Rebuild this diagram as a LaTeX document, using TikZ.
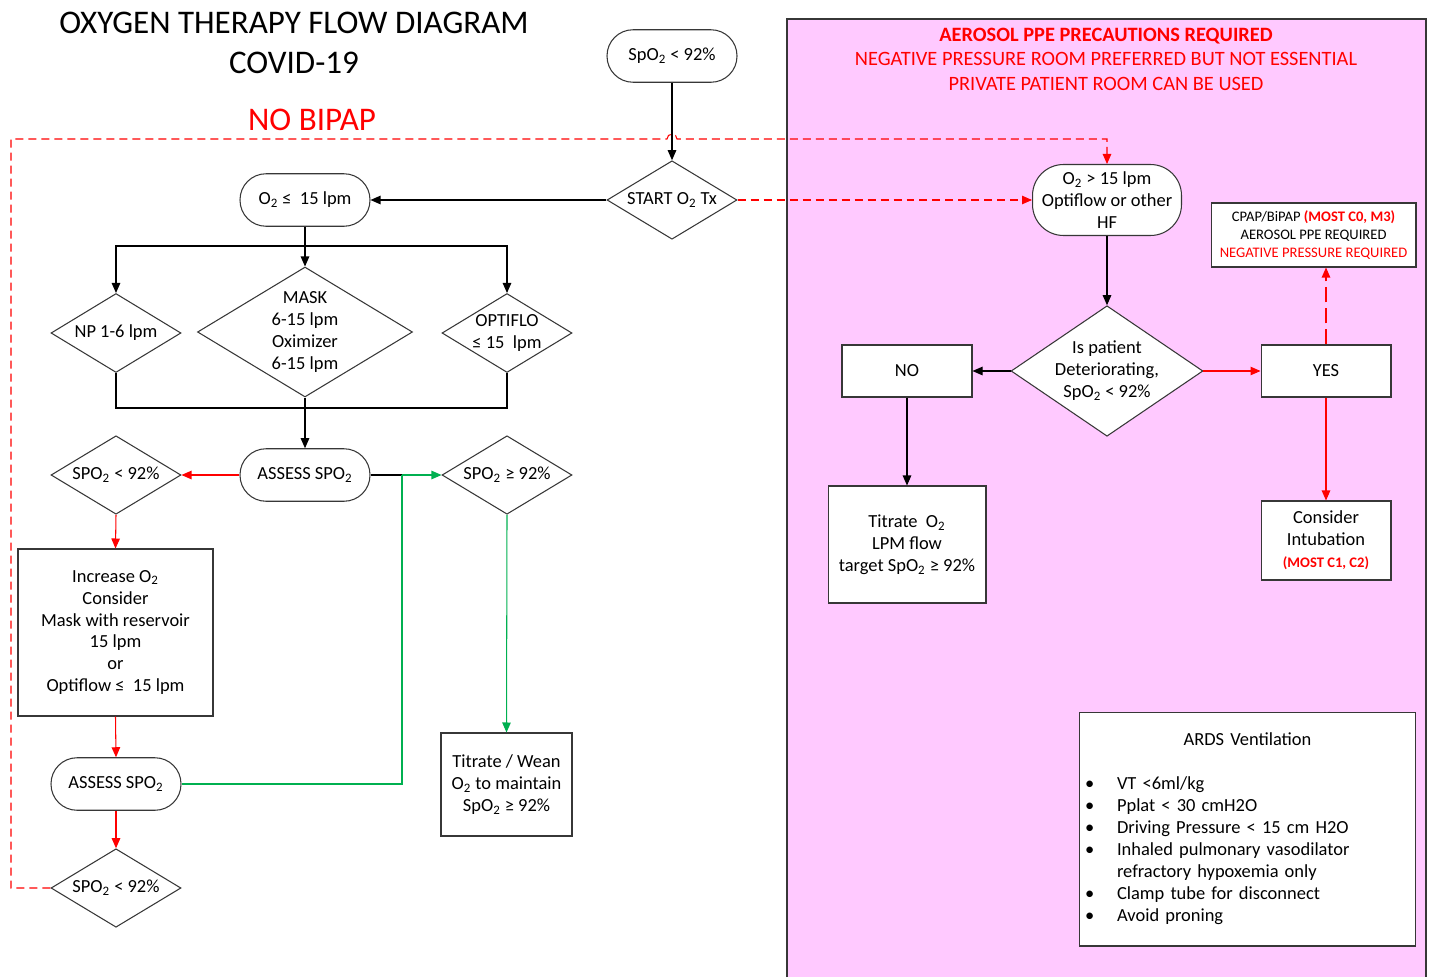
\documentclass[tikz,border=0pt]{standalone}
\usepackage{fontspec}
\setmainfont{Carlito}
\usetikzlibrary{shapes.geometric,arrows.meta}
\definecolor{ppepink}{RGB}{255,201,255}
\definecolor{okgreen}{RGB}{0,176,80}
\definecolor{boxline}{RGB}{55,55,55}
\newcommand{\Otwo}{O\textsubscript{2}}
\newcommand{\SpOtwo}{SpO\textsubscript{2}}
\newcommand{\SPOtwo}{SPO\textsubscript{2}}

\begin{document}
\begin{tikzpicture}[x=0.02cm,y=-0.02cm,
    every node/.style={font=\fontsize{10.5}{12.5}\selectfont},
    ln/.style={line width=0.6pt},
    term/.style={draw=boxline,ln,fill=white,rounded corners=0.52cm,minimum width=2.6cm,minimum height=1.05cm,align=center,inner sep=1pt},
    dia/.style={draw=boxline,ln,fill=white,diamond,aspect=1.65,inner sep=0pt,minimum width=2.6cm,minimum height=1.57cm,align=center},
    box/.style={draw=boxline,ln,fill=white,align=center},
    arr/.style={ln,-{Triangle[length=0.2cm,width=0.17cm]}},
    redarr/.style={arr,red},
    reddash/.style={arr,red,dash pattern=on 0.16cm off 0.1cm},
    grn/.style={ln,okgreen}]
  \useasboundingbox (0,0) rectangle (1429,977);

  % Aerosol area
  \fill[ppepink] (787,19) rectangle (1426,977);
  \draw[boxline,line width=0.8pt] (787,977) |- (1426,19) -- (1426,977);
  \node[align=center,text=red,font=\fontsize{11.6}{13.9}\selectfont] (ppe) at (1106,59)
    {\textbf{AEROSOL PPE PRECAUTIONS REQUIRED}\\NEGATIVE PRESSURE ROOM PREFERRED BUT NOT ESSENTIAL\\PRIVATE PATIENT ROOM CAN BE USED};

  % Title
  \node[align=center,font=\fontsize{18.8}{22.7}\selectfont] (title) at (294,43) {OXYGEN THERAPY FLOW DIAGRAM\\COVID-19};
  \node[text=red,font=\fontsize{18.8}{22.7}\selectfont] (nobipap) at (312,120) {NO BIPAP};

  % Start
  \node[term] (spolow) at (672,56) {\SpOtwo\ < 92\%};
  \node[dia] (start) at (672,200) {START \Otwo\ Tx};
  \node[term] (o2low) at (305,200) {\Otwo\ ≤\ \ 15 lpm};

  % Delivery devices
  \node[dia,minimum height=1.58cm] (np) at (116,333) {NP 1-6 lpm};
  \node[dia,minimum width=4.3cm,minimum height=2.6cm] (mask) at (305,332) {MASK\\6-15 lpm\\Oximizer\\6-15 lpm};
  \node[dia,minimum height=1.58cm] (opti) at (507,333) {OPTIFLO\\≤ 15\ \ lpm};

  % Assessment
  \node[term] (assess) at (305,475) {ASSESS \SPOtwo};
  \node[dia] (lowa) at (116,475) {\SPOtwo\ < 92\%};
  \node[dia] (higha) at (507,475) {\SPOtwo\ ≥ 92\%};
  \node[box,minimum width=3.9cm,minimum height=3.34cm] (inc) at (115.5,632.5)
    {Increase \Otwo\\Consider\\Mask with reservoir\\15 lpm\\or\\Optiflow ≤\ \ 15 lpm};
  \node[box,minimum width=2.62cm,minimum height=2.06cm] (wean) at (506.5,784.5)
    {Titrate / Wean\\\Otwo\ to maintain\\\SpOtwo\ ≥ 92\%};
  \node[term] (assess2) at (116,784) {ASSESS \SPOtwo};
  \node[dia] (lowb) at (116,888) {\SPOtwo\ < 92\%};

  % High flow
  \node[term,minimum width=2.98cm,minimum height=1.42cm,rounded corners=0.62cm] (o2high) at (1107,200)
    {\Otwo\ > 15 lpm\\Optiflow or other\\HF};
  \node[dia,aspect=1.47,minimum width=3.82cm,minimum height=2.6cm] (deter) at (1107,371)
    {Is patient\\Deteriorating,\\\SpOtwo\ < 92\%};
  \node[box,minimum width=2.6cm,minimum height=1.04cm] (no) at (907,371) {NO};
  \node[box,minimum width=3.16cm,minimum height=2.34cm] (titr) at (907,544.5)
    {Titrate\ \ \Otwo\\LPM flow\\target \SpOtwo\ ≥ 92\%};
  \node[box,minimum width=2.6cm,minimum height=1.04cm] (yes) at (1326,371) {YES};
  \node[box,minimum width=4.1cm,minimum height=1.28cm,font=\fontsize{8.3}{10.2}\selectfont] (cpap) at (1313.5,235)
    {CPAP/BiPAP \textcolor{red}{\textbf{(MOST C0, M3)}}\\AEROSOL PPE REQUIRED\\\textcolor{red}{NEGATIVE PRESSURE REQUIRED}};
  \node[box,minimum width=2.6cm,minimum height=1.58cm] (cons) at (1326,540.5)
    {Consider\\Intubation\\\textcolor{red}{\textbf{\fontsize{8.3}{10}\selectfont (MOST C1, C2)}}};

  % ARDS
  \node[box,minimum width=6.7cm,minimum height=4.68cm,text width=6.5cm,align=left] (ards) at (1247.5,829)
    {\makebox[6.5cm]{ARDS Ventilation}\\[12.5pt]
     \makebox[0.64cm][l]{•}VT <6ml/kg\\
     \makebox[0.64cm][l]{•}Pplat < 30 cmH2O\\
     \makebox[0.64cm][l]{•}Driving Pressure < 15 cm H2O\\
     \makebox[0.64cm][l]{•}Inhaled pulmonary vasodilator\\
     \hspace*{0.64cm}refractory hypoxemia only\\
     \makebox[0.64cm][l]{•}Clamp tube for disconnect\\
     \makebox[0.64cm][l]{•}Avoid proning};

  % Connectors, left side
  \coordinate (fan) at (305,246);
  \coordinate (merge) at (305,408);
  \coordinate (gjoin) at (402,475);
  \coordinate (loopcorner) at (11,139);
  \coordinate (hop) at (667,139);
  \draw[arr] (spolow) -- (start);
  \draw[arr] (start) -- (o2low);
  \draw[ln] (o2low.south) -- (fan);
  \draw[arr] (fan) -| (np.north);
  \draw[arr] (fan) -| (opti.north);
  \draw[arr] (fan) -- (mask.north);
  \draw[ln] (np.south) |- (merge) -| (opti.south);
  \draw[arr] (mask.south) -- (assess.north);
  \draw[redarr] (assess.west) -- (lowa.east);
  \draw[ln] (assess.east) -- (gjoin);
  \draw[arr,okgreen] (gjoin) -- (higha.west);
  \draw[grn] (assess2.east) -| (gjoin);
  \draw[arr,okgreen] (higha.south) -- (wean.north);
  \draw[redarr] (lowa.south) -- (inc.north);
  \draw[redarr] (inc.south) -- (assess2.north);
  \draw[redarr] (assess2.south) -- (lowb.north);
  \draw[reddash] (lowb.west) -| (loopcorner) -- (hop) arc[start angle=180,end angle=0,radius=0.1cm] -| (o2high.north);
  \draw[reddash] (start.east) -- (o2high.west);

  % Connectors, right side
  \draw[arr] (o2high.south) -- (deter.north);
  \draw[arr] (deter.west) -- (no.east);
  \draw[arr] (no.south) -- (titr.north);
  \draw[redarr] (deter.east) -- (yes.west);
  \draw[redarr,dash pattern=on 0.3cm off 0.12cm] (yes.north) -- (yes.north |- cpap.south);
  \draw[redarr] (yes.south) -- (cons.north);
\end{tikzpicture}
\end{document}
